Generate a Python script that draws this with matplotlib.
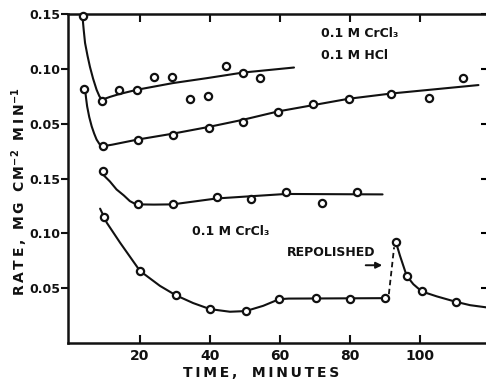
import matplotlib
matplotlib.use("Agg")
import matplotlib.pyplot as plt

# ===============================
# DATA
# y axis is one scale 0..0.30, upper panel offset by +0.15
# ===============================
# upper pair: 0.1 M CrCl3 + 0.1 M HCl
a_t = [3.6, 9.2, 14.1, 19.0, 24.1, 29.0, 34.3, 39.5, 44.5, 49.5, 54.3]
a_v = [0.2985, 0.2209, 0.2306, 0.2309, 0.2421, 0.2421, 0.2227, 0.2252, 0.2527, 0.2461, 0.2415]
a_fit_t = [3.5, 3.9, 4.3, 5.0, 5.7, 6.6, 7.6, 8.4, 9.1, 11.5, 14.1, 19.1, 29.4, 39.1, 49.4, 64.0]
a_fit_v = [0.300, 0.2860, 0.2736, 0.2620, 0.2518, 0.2410, 0.2309, 0.2250, 0.2218, 0.2245, 0.2270, 0.2309, 0.2370, 0.2415, 0.2466, 0.2512]

b_t = [4.0, 9.4, 19.3, 29.4, 39.6, 49.5, 59.5, 69.5, 79.6, 91.8, 102.5, 112.4]
b_v = [0.2318, 0.1800, 0.1848, 0.1900, 0.1964, 0.2012, 0.2106, 0.2182, 0.2224, 0.2267, 0.2230, 0.2412]
b_fit_t = [4.3, 4.6, 4.9, 5.5, 6.2, 6.9, 7.6, 8.4, 9.3, 12.0, 19.3, 29.4, 39.6, 49.5, 59.5, 79.6, 91.8, 116.7]
b_fit_v = [0.2315, 0.2230, 0.2157, 0.2060, 0.1975, 0.1910, 0.1855, 0.1815, 0.1794, 0.1808, 0.1855, 0.1909, 0.1970, 0.2036, 0.2112, 0.2227, 0.2275, 0.2352]

# lower pair: 0.1 M CrCl3
c_t = [9.4, 19.5, 29.3, 41.9, 51.7, 61.7, 72.1, 81.9]
c_v = [0.1566, 0.1264, 0.1264, 0.1330, 0.1309, 0.1376, 0.1279, 0.1376]
c_fit_t = [9.7, 11.4, 13.3, 15.4, 17.1, 18.4, 19.5, 24.0, 29.3, 41.9, 61.7, 89.3]
c_fit_v = [0.1527, 0.1473, 0.1400, 0.1345, 0.1294, 0.1272, 0.1264, 0.1262, 0.1264, 0.1318, 0.1359, 0.1355]

d_t = [9.7, 20.0, 30.2, 40.0, 50.2, 59.8, 70.2, 80.0, 90.0, 93.1, 96.2, 100.5, 110.2]
d_v = [0.1152, 0.0657, 0.0436, 0.0309, 0.0294, 0.0400, 0.0406, 0.0400, 0.0409, 0.0921, 0.0612, 0.0470, 0.0376]
d_fit1_t = [8.6, 10.5, 14.3, 20.0, 25.7, 30.2, 35.2, 40.0, 45.7, 50.2, 55.2, 59.8, 62.5, 70.2, 90.0]
d_fit1_v = [0.1225, 0.1097, 0.0915, 0.0657, 0.0521, 0.0436, 0.0364, 0.0309, 0.0285, 0.0291, 0.0339, 0.0400, 0.0405, 0.0406, 0.0409]
d_dash_t = [91.1, 92.6]
d_dash_v = [0.0445, 0.0873]
d_fit2_t = [93.1, 94.3, 96.2, 98.1, 100.5, 104.8, 110.2, 114.3, 119.4]
d_fit2_v = [0.0921, 0.0794, 0.0612, 0.0536, 0.0470, 0.0425, 0.0376, 0.0345, 0.0323]

x_ticks = [20, 40, 60, 80, 100]
y_ticks = [0.05, 0.10, 0.15, 0.20, 0.25, 0.30]
y_tick_labels = ['0.05', '0.10', '0.15', '0.05', '0.10', '0.15']

INK = '#111111'
plt.rcParams['font.family'] = ['DejaVu Sans']
plt.rcParams['font.weight'] = 'bold'
plt.rcParams['mathtext.default'] = 'bf'


def spaced(s):
    return '\u2009'.join(s)


fig = plt.figure(figsize=(4.86, 3.83), dpi=100)
ax = fig.add_axes([68.25 / 486, 40 / 383, 420 / 486, 329 / 383])

line_kw = dict(color=INK, lw=1.5, solid_capstyle='round', solid_joinstyle='round')
mark_kw = dict(ls='none', marker='o', ms=5.2, mfc='white', mec=INK, mew=1.6, clip_on=False, zorder=3)

ax.plot(a_fit_t, a_fit_v, **line_kw)
ax.plot(b_fit_t, b_fit_v, **line_kw)
ax.plot(c_fit_t, c_fit_v, **line_kw)
ax.plot(d_fit1_t, d_fit1_v, **line_kw)
ax.plot(d_dash_t, d_dash_v, color=INK, lw=1.3, ls=(0, (3, 2)))
ax.plot(d_fit2_t, d_fit2_v, **line_kw)

for t, v in [(a_t, a_v), (b_t, b_v), (c_t, c_v), (d_t, d_v)]:
    ax.plot(t, v, **mark_kw)

ax.set_xlim(-0.5, 119.5)
ax.set_ylim(0, 0.30)

ax.set_xticks(x_ticks)
ax.set_yticks(y_ticks)
ax.set_yticklabels(y_tick_labels)
for spine in ax.spines.values():
    spine.set_linewidth(1.8)
    spine.set_color(INK)

ax.tick_params(axis='x', direction='in', top=True, length=6, width=1.5,
               labelsize=10, pad=4, colors=INK)
ax.tick_params(axis='y', direction='out', length=5, width=1.5,
               labelsize=9, pad=1, colors=INK)
sec = ax.secondary_yaxis('right')
sec.set_yticks(y_ticks)
sec.tick_params(direction='in', length=5, width=1.5, labelright=False)
sec.spines['right'].set_linewidth(1.8)

# annotations
ax.text(82.9, 0.2818, '0.1 M CrCl\u2083', ha='center', va='center', fontsize=9, color=INK)
ax.text(81.4, 0.2618, '0.1 M HCl', ha='center', va='center', fontsize=9, color=INK)
ax.text(46.0, 0.1018, '0.1 M CrCl\u2083', ha='center', va='center', fontsize=9, color=INK)
ax.text(74.6, 0.0827, 'REPOLISHED', ha='center', va='center', fontsize=9, color=INK)
ax.annotate('', xy=(90.0, 0.0709), xytext=(83.7, 0.0709),
            arrowprops=dict(arrowstyle='-|>', color=INK, lw=1.4, mutation_scale=9))

fig.text(261 / 486, 1 - 373 / 383, spaced('TIME,') + '   ' + spaced('MINUTES'),
         ha='center', va='center', fontsize=10, color=INK)
fig.text(20 / 486, 1 - 192 / 383,
         spaced('RATE,') + '  ' + spaced('MG') + '  ' + spaced('CM') + r'$^{-2}$'
         + '  ' + spaced('MIN') + r'$^{-1}$',
         ha='center', va='center', rotation=90, fontsize=10, color=INK)

fig.savefig('out.png', dpi=100)
